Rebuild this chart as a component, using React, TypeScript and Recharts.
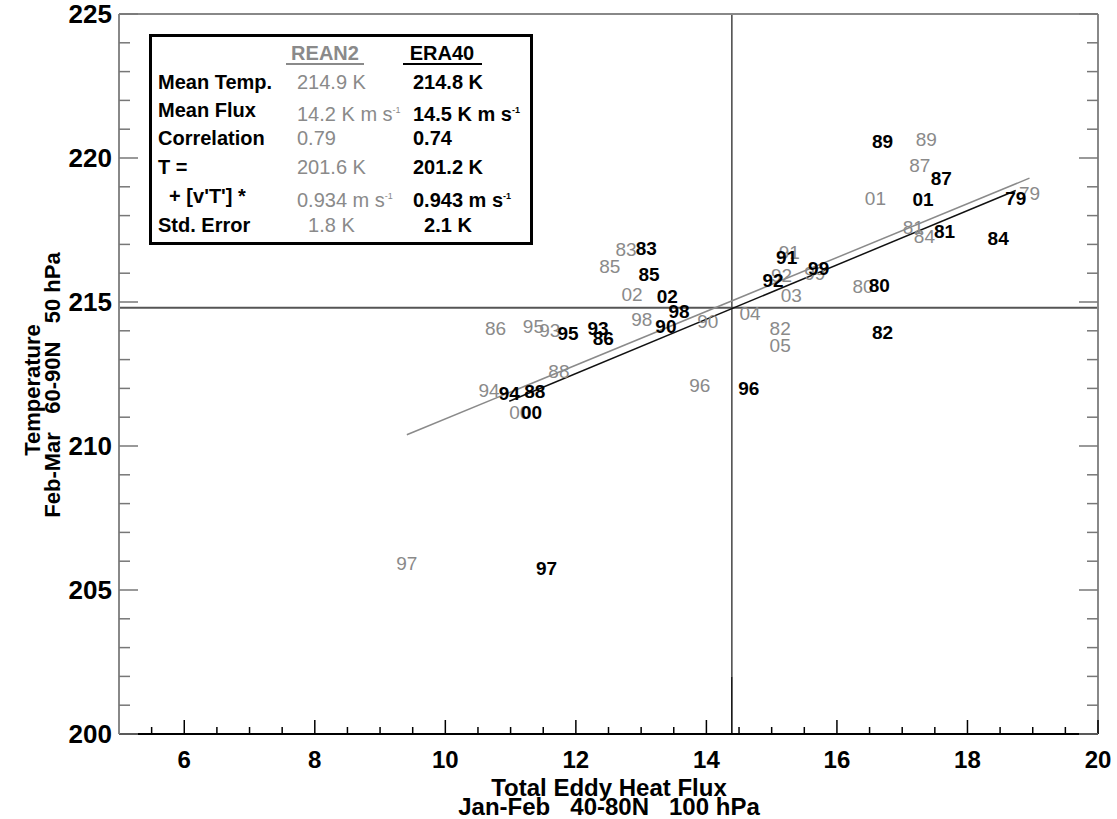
import { ScatterChart, Scatter, XAxis, YAxis, ReferenceLine } from "recharts"

const FONT = '"Liberation Sans", Arial, Helvetica, sans-serif'
const GRAY = "#8a8a8a"

// ERA40 (black labels)
const ERA_YEARS = ["79", "80", "81", "82", "83", "84", "85", "86", "87", "88", "89", "90", "91", "92", "93", "94", "95", "96", "97", "98", "99", "00", "01", "02"]
const ERA_FLUX = [18.74, 16.65, 17.65, 16.7, 13.08, 18.47, 13.12, 12.42, 17.6, 11.37, 16.7, 13.38, 15.23, 15.02, 12.34, 10.98, 11.88, 14.65, 11.55, 13.58, 15.72, 11.32, 17.32, 13.4]
const ERA_TEMP = [218.37, 215.33, 217.21, 213.72, 216.64, 216.98, 215.74, 213.51, 219.07, 211.66, 220.34, 213.91, 216.31, 215.53, 213.86, 211.6, 213.68, 211.77, 205.52, 214.43, 215.94, 210.93, 218.34, 214.98]

// REAN2 (gray labels)
const REAN_YEARS = ["79", "80", "81", "82", "83", "84", "85", "86", "87", "88", "89", "90", "91", "92", "93", "94", "95", "96", "97", "98", "99", "00", "01", "02", "03", "04", "05"]
const REAN_FLUX = [18.95, 16.4, 17.17, 15.13, 12.77, 17.34, 12.52, 10.77, 17.27, 11.74, 17.37, 14.02, 15.27, 15.15, 11.6, 10.67, 11.35, 13.9, 9.41, 13.01, 15.66, 11.14, 16.59, 12.86, 15.3, 14.67, 15.13]
const REAN_TEMP = [218.55, 215.3, 217.37, 213.86, 216.58, 217.06, 216.02, 213.86, 219.53, 212.37, 220.42, 214.09, 216.48, 215.68, 213.8, 211.71, 213.94, 211.89, 205.7, 214.18, 215.77, 210.93, 218.37, 215.05, 214.99, 214.37, 213.28]

// fit: T = a + b * flux
const REAN_FIT = [201.6, 0.934]
const ERA_FIT = [201.2, 0.943]
const MEAN_TEMP = 214.8
const MEAN_FLUX = 14.39

const X_TICKS = [5.5, 6, 6.5, 7, 7.5, 8, 8.5, 9, 9.5, 10, 10.5, 11, 11.5, 12, 12.5, 13, 13.5, 14, 14.5, 15, 15.5, 16, 16.5, 17, 17.5, 18, 18.5, 19, 19.5, 20]
const X_LABELS = [6, 8, 10, 12, 14, 16, 18, 20]
const Y_TICKS = [200, 201, 202, 203, 204, 205, 206, 207, 208, 209, 210, 211, 212, 213, 214, 215, 216, 217, 218, 219, 220, 221, 222, 223, 224, 225]
const Y_LABELS = [200, 205, 210, 215, 220, 225]

const LEGEND_ROWS = ["Mean Temp.", "Mean Flux", "Correlation", "T =", "  + [v'T'] *", "Std. Error"]
const REAN_STATS = ["214.9 K", "14.2 K m s^-1", "0.79", "201.6 K", "0.934 m s^-1", "  1.8 K"]
const ERA_STATS = ["214.8 K", "14.5 K m s^-1", "0.74", "201.2 K", "0.943 m s^-1", "  2.1 K"]

const eraData = ERA_YEARS.map((year, i) => ({ year, flux: ERA_FLUX[i], temp: ERA_TEMP[i] }))
const reanData = REAN_YEARS.map((year, i) => ({ year, flux: REAN_FLUX[i], temp: REAN_TEMP[i] }))

function fitSegment(flux: number[], fit: number[]) {
    const lo = Math.min(...flux)
    const hi = Math.max(...flux)
    return [
        { x: lo, y: fit[0] + fit[1] * lo },
        { x: hi, y: fit[0] + fit[1] * hi },
    ]
}

// eslint-disable-next-line @typescript-eslint/no-explicit-any
function BottomTick({ x, y, payload }: any) {
    const major = X_LABELS.includes(payload.value)
    return (
        <g>
            <line x1={x} x2={x} y1={y} y2={y - (major ? 14 : 7)} stroke="#000" strokeWidth={1.5} />
            {major && (
                <text x={x} y={y + 25} textAnchor="middle" dominantBaseline="central" fontFamily={FONT} fontWeight="bold" fontSize={24} fill="#000">
                    {payload.value}
                </text>
            )}
        </g>
    )
}

// eslint-disable-next-line @typescript-eslint/no-explicit-any
function TopTick({ x, y, payload }: any) {
    const major = X_LABELS.includes(payload.value)
    return <line x1={x} x2={x} y1={y} y2={y + (major ? 14 : 7)} stroke="#777" strokeWidth={1.5} />
}

// eslint-disable-next-line @typescript-eslint/no-explicit-any
function LeftTick({ x, y, payload }: any) {
    const major = Y_LABELS.includes(payload.value)
    return (
        <g>
            <line x1={x} x2={x + (major ? 19 : 11)} y1={y} y2={y} stroke="#777" strokeWidth={1.5} />
            {major && (
                <text x={x - 7} y={y} textAnchor="end" dominantBaseline="central" fontFamily={FONT} fontWeight="bold" fontSize={26} fill="#000">
                    {payload.value}
                </text>
            )}
        </g>
    )
}

// eslint-disable-next-line @typescript-eslint/no-explicit-any
function RightTick({ x, y, payload }: any) {
    const major = Y_LABELS.includes(payload.value)
    return <line x1={x} x2={x - (major ? 19 : 11)} y1={y} y2={y} stroke="#777" strokeWidth={1.5} />
}

// eslint-disable-next-line @typescript-eslint/no-explicit-any
function EraLabel({ cx, cy, payload }: any) {
    return (
        <text x={cx} y={cy} textAnchor="middle" fontFamily={FONT} fontWeight="bold" fontSize={19} fill="#000">
            {payload.year}
        </text>
    )
}

// eslint-disable-next-line @typescript-eslint/no-explicit-any
function ReanLabel({ cx, cy, payload }: any) {
    return (
        <text x={cx} y={cy} textAnchor="middle" fontFamily={FONT} fontSize={19} fill={GRAY}>
            {payload.year}
        </text>
    )
}

function Stat({ text }: { text: string }) {
    const [base, sup] = text.split("^")
    return (
        <>
            {base}
            {sup && <span style={{ fontSize: 9, verticalAlign: 8 }}>{sup}</span>}
        </>
    )
}

function Txt({ x, y, children, style }: { x: number; y: number; children: React.ReactNode; style?: React.CSSProperties }) {
    return (
        <div style={{ position: "absolute", left: x, top: y - 12, lineHeight: "24px", whiteSpace: "pre", fontFamily: FONT, fontSize: 20, ...style }}>
            {children}
        </div>
    )
}

const titleStyle: React.CSSProperties = {
    position: "absolute",
    width: 400,
    textAlign: "center",
    fontFamily: FONT,
    fontWeight: "bold",
    lineHeight: "24px",
    whiteSpace: "pre",
}

export default function App() {
    const rowY = [81.7, 110, 138.3, 166.7, 195.7, 225]
    return (
        <div style={{ position: "absolute", left: 0, top: 0, width: 1117, height: 819, background: "#fff", overflow: "hidden" }}>
            <ScatterChart width={1117} height={819} margin={{ top: 0, right: 0, bottom: 0, left: 0 }}>
                <XAxis
                    dataKey="flux"
                    type="number"
                    domain={[5, 20]}
                    ticks={X_TICKS}
                    interval={0}
                    height={85}
                    tickSize={0}
                    tickMargin={0}
                    tickLine={false}
                    tick={BottomTick}
                    axisLine={{ stroke: "#000", strokeWidth: 2 }}
                    allowDataOverflow
                />
                <XAxis
                    xAxisId="top"
                    orientation="top"
                    type="number"
                    domain={[5, 20]}
                    ticks={X_TICKS}
                    interval={0}
                    height={14}
                    tickSize={0}
                    tickMargin={0}
                    tickLine={false}
                    tick={TopTick}
                    axisLine={{ stroke: "#888", strokeWidth: 2 }}
                    allowDataOverflow
                />
                <YAxis
                    dataKey="temp"
                    type="number"
                    domain={[200, 225]}
                    ticks={Y_TICKS}
                    interval={0}
                    width={119}
                    tickSize={0}
                    tickMargin={0}
                    tickLine={false}
                    tick={LeftTick}
                    axisLine={{ stroke: "#888", strokeWidth: 2 }}
                    allowDataOverflow
                />
                <YAxis
                    yAxisId="right"
                    orientation="right"
                    type="number"
                    domain={[200, 225]}
                    ticks={Y_TICKS}
                    interval={0}
                    width={19}
                    tickSize={0}
                    tickMargin={0}
                    tickLine={false}
                    tick={RightTick}
                    axisLine={{ stroke: "#888", strokeWidth: 2 }}
                    allowDataOverflow
                />
                <ReferenceLine y={MEAN_TEMP} stroke="#555" strokeWidth={2} />
                <ReferenceLine segment={[{ x: MEAN_FLUX, y: 202 }, { x: MEAN_FLUX, y: 225 }]} stroke="#444" strokeWidth={1.5} />
                <ReferenceLine segment={[{ x: MEAN_FLUX, y: 200 }, { x: MEAN_FLUX, y: 202 }]} stroke="#000" strokeWidth={1.5} />
                <ReferenceLine segment={[{ x: 5, y: 200 }, { x: 5, y: 202 }]} stroke="#000" strokeWidth={2} />
                <ReferenceLine segment={[{ x: 20, y: 200 }, { x: 20, y: 202 }]} stroke="#000" strokeWidth={2} />
                <Scatter data={reanData} shape={ReanLabel} isAnimationActive={false} />
                <Scatter data={eraData} shape={EraLabel} isAnimationActive={false} />
                <ReferenceLine segment={fitSegment(REAN_FLUX, REAN_FIT)} stroke={GRAY} strokeWidth={1.5} />
                <ReferenceLine segment={fitSegment(ERA_FLUX, ERA_FIT)} stroke="#111" strokeWidth={1.5} />
            </ScatterChart>

            {/* axis titles */}
            <div style={{ ...titleStyle, left: 409, top: 776, fontSize: 24 }}>Total Eddy Heat Flux</div>
            <div style={{ ...titleStyle, left: 409, top: 795, fontSize: 24 }}>Jan-Feb   40-80N   100 hPa</div>
            <div style={{ ...titleStyle, left: 33 - 200, top: 390 - 12, fontSize: 22, transform: "rotate(-90deg)" }}>Temperature</div>
            <div style={{ ...titleStyle, left: 53 - 200, top: 385 - 12, fontSize: 22, transform: "rotate(-90deg)" }}>Feb-Mar   60-90N   50 hPa</div>

            {/* statistics box */}
            <div style={{ position: "absolute", left: 149, top: 34, width: 384, height: 211, border: "3px solid #000", boxSizing: "border-box", background: "#fff" }} />
            <Txt x={265} y={52.7} style={{ width: 120, textAlign: "center", color: GRAY, fontWeight: "bold" }}>REAN2</Txt>
            <Txt x={382} y={52.7} style={{ width: 120, textAlign: "center", color: "#000", fontWeight: "bold" }}>ERA40</Txt>
            <div style={{ position: "absolute", left: 286, top: 63, width: 78, height: 2, background: GRAY }} />
            <div style={{ position: "absolute", left: 403, top: 63, width: 79, height: 2, background: "#000" }} />
            {LEGEND_ROWS.map((label, i) => (
                <Txt key={"l" + i} x={158} y={rowY[i]} style={{ fontWeight: "bold", color: "#000" }}>{label}</Txt>
            ))}
            {REAN_STATS.map((s, i) => (
                <Txt key={"r" + i} x={297} y={rowY[i]} style={{ color: GRAY }}><Stat text={s} /></Txt>
            ))}
            {ERA_STATS.map((s, i) => (
                <Txt key={"e" + i} x={413} y={rowY[i]} style={{ color: "#000", fontWeight: "bold" }}><Stat text={s} /></Txt>
            ))}
        </div>
    )
}
